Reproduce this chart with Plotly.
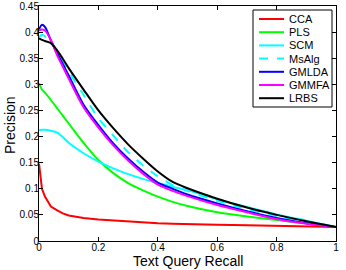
import plotly.graph_objects as go

recall = [0, 0.01, 0.02, 0.04, 0.06, 0.08, 0.1, 0.15, 0.2, 0.25, 0.3, 0.35, 0.4, 0.45, 0.5, 0.6, 0.7, 0.8, 0.9, 1.0]

cca   = [0.148, 0.100, 0.085, 0.066, 0.059, 0.053, 0.049, 0.044, 0.041, 0.039, 0.037, 0.035, 0.034, 0.033, 0.032, 0.031, 0.030, 0.029, 0.028, 0.027]
pls   = [0.302, 0.290, 0.284, 0.270, 0.255, 0.240, 0.225, 0.188, 0.155, 0.130, 0.111, 0.097, 0.085, 0.075, 0.067, 0.055, 0.047, 0.040, 0.034, 0.027]
scm   = [0.212, 0.213, 0.213, 0.211, 0.208, 0.199, 0.188, 0.168, 0.152, 0.139, 0.128, 0.119, 0.111, 0.104, 0.097, 0.080, 0.065, 0.051, 0.039, 0.027]
msalg = [0.390, 0.395, 0.392, 0.380, 0.362, 0.343, 0.325, 0.280, 0.235, 0.202, 0.170, 0.145, 0.124, 0.107, 0.096, 0.077, 0.061, 0.048, 0.037, 0.027]
gmlda = [0.405, 0.414, 0.410, 0.384, 0.361, 0.339, 0.317, 0.261, 0.222, 0.187, 0.158, 0.133, 0.112, 0.100, 0.089, 0.072, 0.057, 0.044, 0.034, 0.027]
gmmfa = [0.403, 0.405, 0.403, 0.385, 0.357, 0.334, 0.311, 0.256, 0.217, 0.183, 0.154, 0.129, 0.108, 0.096, 0.086, 0.069, 0.055, 0.042, 0.033, 0.027]
lrbs  = [0.388, 0.385, 0.383, 0.379, 0.366, 0.349, 0.331, 0.290, 0.250, 0.216, 0.185, 0.158, 0.133, 0.113, 0.101, 0.081, 0.064, 0.050, 0.038, 0.027]

x_ticks = [0, 0.2, 0.4, 0.6, 0.8, 1]
x_labels = ["0", "0.2", "0.4", "0.6", "0.8", "1"]
y_ticks = [0, 0.05, 0.1, 0.15, 0.2, 0.25, 0.3, 0.35, 0.4, 0.45]
y_labels = ["0", "0.05", "0.1", "0.15", "0.2", "0.25", "0.3", "0.35", "0.4", "0.45"]

names = ["CCA", "PLS", "SCM", "MsAlg", "GMLDA", "GMMFA", "LRBS"]
values = [cca, pls, scm, msalg, gmlda, gmmfa, lrbs]
colors = ["#FF0000", "#00FF00", "#00FFFF", "#00FFFF", "#0000FF", "#FF00FF", "#000000"]
dashes = ["solid", "solid", "solid", "dash", "solid", "solid", "solid"]

W, H = 346, 270
ML, MR, MT, MB = 39, 10, 6, 29
PW, PH = W - ML - MR, H - MT - MB

def px(x):
    return (x - ML) / PW

def py(y):
    return (H - MB - y) / PH

font = "Liberation Sans, Arial, sans-serif"

fig = go.Figure()
for name, vals, color, dash in zip(names, values, colors, dashes):
    shape = "linear" if name == "CCA" else "spline"
    fig.add_trace(go.Scatter(x=recall, y=vals, mode="lines", name=name,
                             line=dict(color=color, width=2, dash=dash,
                                       shape=shape, smoothing=0.8),
                             showlegend=False))

# manual legend box
shapes = [dict(type="rect", xref="paper", yref="paper",
               x0=px(253), x1=px(332), y0=py(107), y1=py(10),
               line=dict(color="black", width=1), fillcolor="white", layer="above")]
annotations = []
for i, (name, color, dash) in enumerate(zip(names, colors, dashes)):
    yy = 19 + 13.2 * i
    shapes.append(dict(type="line", xref="paper", yref="paper",
                       x0=px(259), x1=px(284), y0=py(yy), y1=py(yy),
                       line=dict(color=color, width=2, dash=dash), layer="above"))
    annotations.append(dict(text=name, xref="paper", yref="paper",
                            x=px(287), y=py(yy), xanchor="left", yanchor="middle",
                            showarrow=False, font=dict(family=font, size=11, color="black")))

annotations.append(dict(text="Text Query Recall", xref="paper", yref="paper",
                        x=0.5, y=py(261), xanchor="center", yanchor="middle",
                        showarrow=False, font=dict(family=font, size=14, color="black")))
annotations.append(dict(text="Precision", xref="paper", yref="paper",
                        x=px(10), y=py(125), xanchor="center", yanchor="middle",
                        textangle=-90,
                        showarrow=False, font=dict(family=font, size=14, color="black")))

fig.update_layout(
    width=W, height=H,
    margin=dict(l=ML, r=MR, t=MT, b=MB),
    paper_bgcolor="white", plot_bgcolor="white",
    font=dict(family=font, size=10, color="#000000"),
    showlegend=False,
    shapes=shapes,
    annotations=annotations,
    xaxis=dict(range=[0, 1], tickvals=x_ticks, ticktext=x_labels,
               showgrid=False, zeroline=False, showline=True, linecolor="black",
               linewidth=1, mirror="ticks", ticks="inside", ticklen=4,
               tickcolor="black", tickfont=dict(size=10), ticklabelstandoff=-3,
               automargin=False),
    yaxis=dict(range=[0, 0.45], tickvals=y_ticks, ticktext=y_labels,
               showgrid=False, zeroline=False, showline=True, linecolor="black",
               linewidth=1, mirror="ticks", ticks="inside", ticklen=4,
               tickcolor="black", tickfont=dict(size=10), ticklabelstandoff=-3,
               automargin=False),
)

fig.write_html("out.html",
               config={"displayModeBar": False},
               post_script="document.body.style.margin='0';document.body.style.padding='0';")
